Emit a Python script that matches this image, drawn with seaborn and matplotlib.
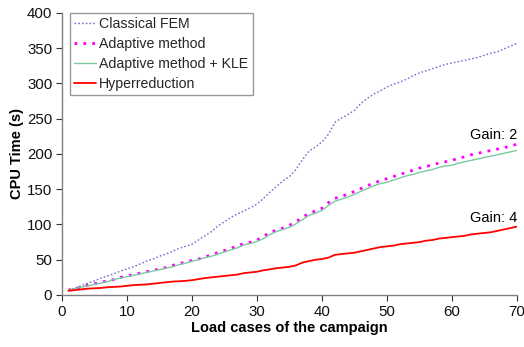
import numpy as np
import pandas as pd
import matplotlib
matplotlib.use("Agg")
import matplotlib.pyplot as plt
import seaborn as sns

load_cases = list(range(1, 71))
classical_fem = [7, 10, 13, 17, 20, 24, 27, 30, 34, 37, 40, 44, 48, 51, 55, 58, 62, 66, 69, 72,
                 78, 84, 90, 98, 104, 110, 115, 119, 124, 129, 137, 146, 154, 162, 168, 178, 192, 204, 210, 217,
                 228, 245, 251, 256, 262, 272, 279, 285, 290, 295, 299, 302, 306, 311, 315, 318, 321, 324, 327, 329,
                 331, 333, 335, 337, 340, 343, 345, 349, 353, 357]
adaptive = [7, 9, 11, 14, 16, 18, 20, 22, 25, 27, 29, 31, 33, 35, 37, 39, 42, 44, 47, 49,
            51, 54, 57, 60, 63, 66, 70, 73, 75, 78, 83, 89, 92, 95, 99, 104, 110, 116, 119, 123,
            131, 137, 140, 143, 147, 151, 155, 159, 162, 165, 168, 171, 174, 177, 180, 182, 185, 187, 189, 191,
            194, 196, 199, 201, 203, 205, 207, 209, 211, 214]
adaptive_kle = [7, 9, 11, 13, 15, 17, 19, 22, 24, 26, 28, 30, 32, 34, 36, 38, 40, 43, 45, 48,
                50, 53, 55, 58, 61, 64, 67, 71, 73, 76, 80, 86, 90, 93, 96, 101, 107, 113, 116, 120,
                127, 133, 136, 139, 143, 147, 151, 155, 158, 160, 163, 166, 169, 171, 174, 176, 178, 181, 183, 184,
                187, 189, 191, 193, 195, 197, 199, 201, 203, 205]
hyperreduction = [6, 7, 8, 9, 9.5, 10, 11, 11.5, 12, 13, 14, 14.5, 15, 16, 17, 18, 19, 19.5, 20, 21,
                  22.5, 24, 25, 26, 27, 28, 29, 31, 32, 33, 35, 36.5, 38, 39, 40, 42, 46, 48, 50, 51,
                  53, 57, 58, 59, 60, 62, 64, 66, 68, 69, 70, 72, 73, 74, 75, 77, 78, 80, 81, 82,
                  83, 84, 86, 87, 88, 89, 91, 93, 95, 97]
series_names = ["Classical FEM", "Adaptive method", "Adaptive method + KLE", "Hyperreduction"]
x_ticks = [0, 10, 20, 30, 40, 50, 60, 70]
y_ticks = [0, 50, 100, 150, 200, 250, 300, 350, 400]
gain_labels = ["Gain: 2", "Gain: 4"]

sns.set_theme(style="white")
plt.rcParams['font.family'] = ['Liberation Sans', 'DejaVu Sans']

fig = plt.figure(figsize=(5.24, 3.47), dpi=100)
ax = fig.add_axes([0.1183, 0.1499, 0.8683, 0.8127])

styles = [
    dict(color="#7070cc", lw=1.0, ls=(0, (1.2, 1.5))),
    dict(color="#ff00ff", lw=2.0, ls=(0, (1, 2.2))),
    dict(color="#7ccaa0", lw=1.0, ls="-"),
    dict(color="#ff0000", lw=1.3, ls="-"),
]
for name, vals, st in zip(series_names, [classical_fem, adaptive, adaptive_kle, hyperreduction], styles):
    sns.lineplot(x=load_cases, y=vals, ax=ax, label=name, color=st["color"],
                 linewidth=st["lw"], linestyle=st["ls"])

ax.set_xlim(0, 70)
ax.set_ylim(0, 400)
ax.set_xticks(x_ticks)
ax.set_yticks(y_ticks)
ax.tick_params(axis="both", labelsize=10.8, colors="#333333", length=4, width=0.8,
               direction="out", left=True, bottom=True, pad=3)
for lab in ax.get_xticklabels() + ax.get_yticklabels():
    lab.set_color("#111111")
for s in ["top", "right"]:
    ax.spines[s].set_visible(False)
for s in ["left", "bottom"]:
    ax.spines[s].set_color("#808080")
    ax.spines[s].set_linewidth(1.0)

ax.set_xlabel("Load cases of the campaign", fontsize=10.5, fontweight="bold", color="black", labelpad=2)
ax.set_ylabel("CPU Time (s)", fontsize=10.5, fontweight="bold", color="black", labelpad=2)

ax.text(70, 227, gain_labels[0], ha="right", va="center", fontsize=10.5, color="black")
ax.text(70, 109, gain_labels[1], ha="right", va="center", fontsize=10.5, color="black")

leg = ax.legend(loc="upper left", bbox_to_anchor=(0.018, 1.0), fontsize=10.2, frameon=True,
                fancybox=False, edgecolor="#808080", handlelength=1.5, handletextpad=0.25,
                labelspacing=0.42, borderpad=0.3, borderaxespad=0.0)
leg.get_frame().set_linewidth(1.0)

fig.savefig("out.png", dpi=100)
